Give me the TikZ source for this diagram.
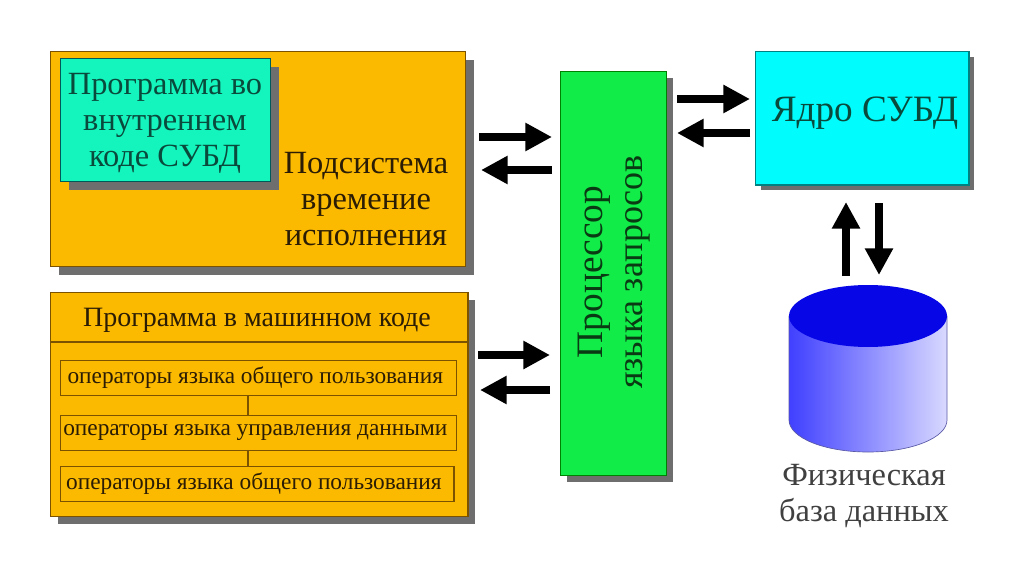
\documentclass[tikz,border=0pt]{standalone}
\usepackage{fontspec}
\setmainfont{Liberation Serif}
\usepackage{xcolor}
\usetikzlibrary{arrows.meta,shadows,calc}
\definecolor{boxorange}{HTML}{FBB900}
\definecolor{boxteal}{HTML}{14F5BE}
\definecolor{boxcyan}{HTML}{00FCFC}
\definecolor{boxgreen}{HTML}{12EC48}
\definecolor{edgebrown}{HTML}{7A5200}
\definecolor{shadegray}{HTML}{6E6E6E}
\definecolor{texttone}{HTML}{2A1C05}
\definecolor{tealtone}{HTML}{0A4A3C}
\definecolor{greentone}{HTML}{0A3A14}
\definecolor{discblue}{HTML}{0606E6}
\tikzset{
  plain box/.style={draw=edgebrown,line width=0.9pt,anchor=north west,inner sep=0pt,
    drop shadow={shadow xshift=#1,shadow yshift=-#1,opacity=1,fill=shadegray}},
  plain box/.default=6.5pt,
  line box/.style={draw=edgebrown,line width=0.9pt,inner sep=0pt,anchor=north west,
    font=\fontsize{17.5}{17.5}\selectfont,text=texttone,execute at end node=\kern5pt},
  big text/.style={font=\fontsize{24.3}{27}\selectfont,text=texttone},
  big arrow/.style={-{Triangle[length=20pt,width=20pt]},line width=6.5pt,black},
}
\begin{document}
\begin{tikzpicture}[x=0.75pt,y=-0.75pt]
  \useasboundingbox[fill=white] (0,0) rectangle (1024,574);
  % left boxes
  \node[plain box,fill=boxorange,minimum width=311pt,minimum height=161pt] (runtime) at (50,51) {};
  \node[plain box,fill=boxteal,draw=teal!70!black,minimum width=157.5pt,minimum height=92pt] (internal) at (60,58) {};
  \node[plain box=5.5pt,fill=boxorange,minimum width=313pt,minimum height=168pt] (machine) at (50,292) {};
  \draw[edgebrown,line width=0.9pt] (machine.west |- 0,342) -- (machine.east |- 0,342);
  % operator rows
  \node[line box,minimum width=297pt,minimum height=26pt] (opsa) at (60,360) {операторы языка общего пользования};
  \node[line box,minimum width=297pt,minimum height=26pt] (opsb) at (60,415) {операторы языка управления данными};
  \node[line box,minimum width=295pt,minimum height=26pt] (opsc) at (60,466) {операторы языка общего пользования};
  \draw[edgebrown,line width=0.9pt] (opsa.south -| 248,0) -- (opsb.north -| 248,0);
  \draw[edgebrown,line width=0.9pt] (opsb.south -| 248,0) -- (opsc.north -| 248,0);
  % right column
  \node[plain box=4.5pt,fill=boxgreen,draw=green!50!black,minimum width=79.5pt,minimum height=303pt] (parser) at (560,71) {};
  \node[plain box=4pt,fill=boxcyan,draw=teal,minimum width=160pt,minimum height=100pt] (kernel) at (755,51) {};
  % disc
  \shade[left color=blue!75!white,middle color=blue!50!white,right color=blue!15!white,draw=blue!30!gray,line width=0.5pt]
    (789,316) -- (789,420) arc[start angle=180,end angle=0,x radius=79,y radius=32]
    -- (947,316) -- cycle;
  \fill[discblue] (868,316) ellipse[x radius=79,y radius=31];
  % labels
  \node[big text,text=tealtone,align=center] (internaltext) at (165,123) {Программа во\\внутреннем\\коде СУБД};
  \node[big text,align=center] (runtimetext) at (366,199) {Подсистема\\времение\\исполнения};
  \node[font=\fontsize{21}{21}\selectfont,text=texttone] (machinetext) at (257,320) {Программа в машинном коде};
  \node[font=\fontsize{27.9}{28}\selectfont,text=tealtone] (kerneltext) at (865,113) {Ядро СУБД};
  \node[font=\fontsize{28}{28}\selectfont,text=greentone,rotate=90] (parsera) at (594,272) {Процессор};
  \node[font=\fontsize{27}{27}\selectfont,text=greentone,rotate=90] (parserb) at (638,272) {языка запросов};
  \node[big text,text=black!75,align=center] (disctext) at (864,496) {Физическая\\база данных};
  % arrows
  \coordinate (ra) at (479,137); \coordinate (pa) at (552,137);
  \coordinate (pb) at (552,170); \coordinate (rb) at (481,170);
  \coordinate (ma) at (478,355); \coordinate (qa) at (550,355);
  \coordinate (qb) at (550,390); \coordinate (mb) at (480,390);
  \coordinate (sa) at (677,99);  \coordinate (ka) at (750,99);
  \coordinate (kb) at (750,133); \coordinate (sb) at (677,133);
  \coordinate (da) at (846,276); \coordinate (kc) at (846,202);
  \coordinate (kd) at (879,203); \coordinate (db) at (879,275);
  \foreach \a/\b in {ra/pa,pb/rb,ma/qa,qb/mb,sa/ka,kb/sb,da/kc,kd/db}
    \draw[big arrow] (\a) -- (\b);
\end{tikzpicture}
\end{document}
